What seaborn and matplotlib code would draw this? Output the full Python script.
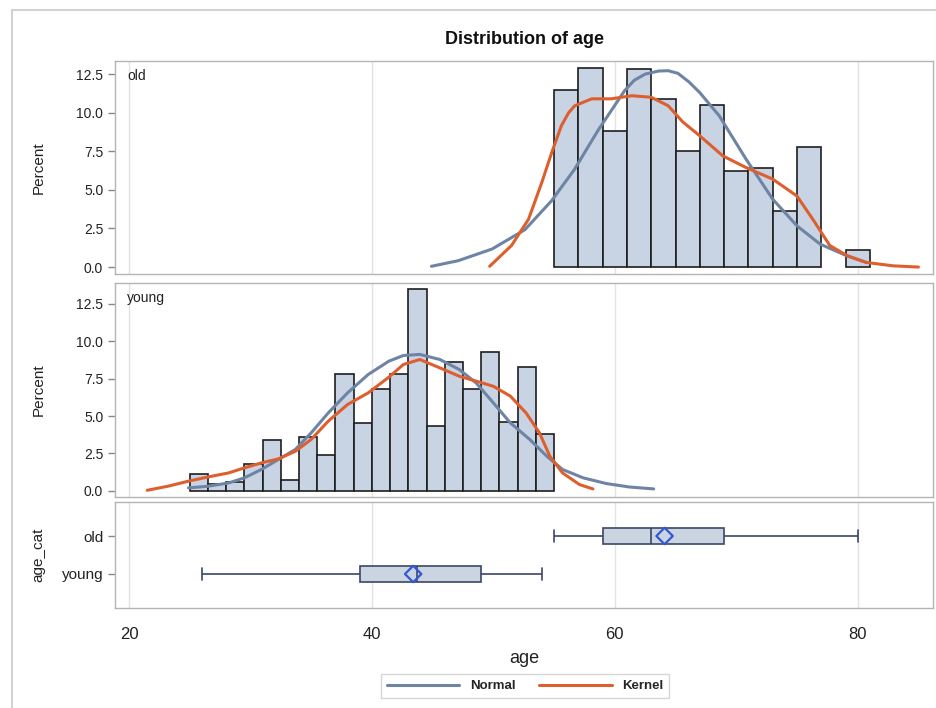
import numpy as np
import pandas as pd
import matplotlib
matplotlib.use("Agg")
import matplotlib.pyplot as plt
import seaborn as sns
from matplotlib.patches import Rectangle

# histogram bins (edges) and percent heights
OLD_EDGES = [55, 57, 59, 61, 63, 65, 67, 69, 71, 73, 75, 77, 79, 81]
OLD_PCT = [11.5, 12.9, 8.8, 12.8, 10.9, 7.5, 10.5, 6.2, 6.4, 3.6, 7.8, 0.0, 1.1]

YOUNG_EDGES = [25, 26.5, 28, 29.5, 31, 32.5, 34, 35.5, 37, 38.5, 40,
               41.5, 43, 44.5, 46, 47.5, 49, 50.5, 52, 53.5, 55]
YOUNG_PCT = [1.1, 0.45, 0.6, 1.8, 3.4, 0.7, 3.6, 2.4, 7.8, 4.5,
             6.8, 7.8, 13.5, 4.3, 8.6, 6.8, 9.3, 4.6, 8.3, 3.8]

# fitted curves, points
OLD_NORMAL_X = [44.9, 47.1, 49.9, 52.6, 54.8, 56.7, 58.6, 60.8, 61.6, 62.5, 63.6,
                64.4, 65.2, 66.1, 67.0, 68.6, 70.8, 73.0, 75.0, 76.9, 79.1, 80.7]
OLD_NORMAL_Y = [0.05, 0.41, 1.17, 2.42, 4.3, 6.35, 8.83, 11.42, 12.1, 12.5, 12.7,
                12.72, 12.55, 12.0, 11.3, 9.8, 7.0, 4.4, 2.67, 1.49, 0.73, 0.3]
OLD_KERNEL_X = [49.7, 51.5, 52.9, 54.0, 54.8, 55.6, 56.2, 56.7, 58.1, 59.7, 61.4, 63.0, 64.4,
                65.6, 67.0, 68.9, 70.8, 73.0, 75.0, 76.3, 77.7, 79.1, 80.7, 82.9, 85.0]
OLD_KERNEL_Y = [0.05, 1.4, 3.1, 5.5, 7.4, 9.15, 10.0, 10.45, 10.9, 10.9, 11.1, 11.0, 10.45,
                9.4, 8.5, 7.2, 6.45, 5.7, 4.6, 3.1, 1.4, 0.75, 0.3, 0.08, 0.0]

YOUNG_NORMAL_X = [24.9, 26.5, 28.2, 29.5, 30.9, 32.3, 33.7, 35.0, 36.4, 38.0, 39.7, 41.4, 42.6,
                  43.95, 45.6, 47.2, 48.6, 50.0, 51.4, 53.0, 54.4, 55.7, 57.4, 59.3, 61.2, 63.2]
YOUNG_NORMAL_Y = [0.19, 0.3, 0.52, 0.86, 1.42, 2.09, 2.76, 3.87, 5.2, 6.55, 7.78, 8.67, 9.05,
                  9.12, 8.78, 8.11, 7.2, 5.88, 4.54, 3.43, 2.31, 1.42, 0.86, 0.48, 0.25, 0.12]
YOUNG_KERNEL_X = [21.5, 23.2, 24.9, 26.5, 28.2, 29.5, 30.9, 32.3, 33.7, 35.0, 36.4, 38.0, 39.7, 41.4,
                  42.6, 43.95, 45.6, 47.2, 48.6, 50.0, 51.4, 52.7, 53.8, 54.65, 55.7, 57.1, 58.2]
YOUNG_KERNEL_Y = [0.03, 0.3, 0.64, 0.92, 1.19, 1.53, 1.86, 2.13, 2.64, 3.43, 4.65, 5.77, 6.55, 7.6,
                  8.45, 8.78, 8.22, 7.66, 7.33, 6.99, 6.33, 5.2, 3.87, 2.31, 1.19, 0.41, 0.12]

# box plot summary per age_cat
BOX_CATS = ["old", "young"]
BOX_MIN = [55, 26]
BOX_Q1 = [59, 39]
BOX_MED = [63, 43.7]
BOX_Q3 = [69, 49]
BOX_MAX = [80, 54]
BOX_MEAN = [64.1, 43.4]

BAR_FILL = "#C8D3E4"
BAR_EDGE = "#1E1E1E"
NORMAL_C = "#6E84A4"
KERNEL_C = "#DE5F2E"
BOX_EDGE = "#3B4668"
MEAN_C = "#3358CF"
SPINE_C = "#B4B4B4"

W, H = 937, 708

sns.set_style("white")
plt.rcParams["font.family"] = ["Liberation Sans", "DejaVu Sans"]

fig = plt.figure(figsize=(W / 100, H / 100), dpi=100)


def px_axes(left, top, right, bottom):
    return fig.add_axes([left / W, 1 - bottom / H, (right - left) / W, (bottom - top) / H])


ax_old = px_axes(115, 61, 933, 274)
ax_young = px_axes(115, 283, 933, 497)
ax_box = px_axes(115, 502, 933, 608)


def draw_hist(ax, edges, pct, nx, ny, kx, ky, name, ylim):
    centers = [(a + b) / 2 for a, b in zip(edges[:-1], edges[1:])]
    sns.histplot(x=centers, weights=pct, bins=edges, ax=ax, color=BAR_FILL,
                 edgecolor=BAR_EDGE, linewidth=1.2, alpha=1)
    for p in ax.patches:
        if p.get_height() == 0:
            p.set_visible(False)
    sns.lineplot(x=nx, y=ny, ax=ax, color=NORMAL_C, linewidth=2.2, sort=False,
                 estimator=None, label="Normal")
    sns.lineplot(x=kx, y=ky, ax=ax, color=KERNEL_C, linewidth=2.2, sort=False,
                 estimator=None, label="Kernel")
    if ax.get_legend() is not None:
        ax.get_legend().remove()
    ax.set_ylim(*ylim)
    ax.set_yticks([0, 2.5, 5, 7.5, 10, 12.5])
    ax.set_yticklabels(["0.0", "2.5", "5.0", "7.5", "10.0", "12.5"])
    ax.set_ylabel("Percent", fontsize=11, color="#222222")
    ax.yaxis.set_label_coords(-0.085, 0.5)
    ax.set_xlabel("")
    ax.tick_params(axis="x", length=0, labelbottom=False)
    ax.text(0.015, 0.93, name, transform=ax.transAxes, ha="left", va="center",
            fontsize=10, color="#222222")


draw_hist(ax_old, OLD_EDGES, OLD_PCT, OLD_NORMAL_X, OLD_NORMAL_Y,
          OLD_KERNEL_X, OLD_KERNEL_Y, "old", (-0.45, 13.35))
draw_hist(ax_young, YOUNG_EDGES, YOUNG_PCT, YOUNG_NORMAL_X, YOUNG_NORMAL_Y,
          YOUNG_KERNEL_X, YOUNG_KERNEL_Y, "young", (-0.42, 13.9))

# box plot: five-number summary per category
rows = []
for i, cat in enumerate(BOX_CATS):
    for v in (BOX_MIN[i], BOX_Q1[i], BOX_MED[i], BOX_Q3[i], BOX_MAX[i]):
        rows.append({"age": v, "age_cat": cat})
box_df = pd.DataFrame(rows)

sns.boxplot(data=box_df, x="age", y="age_cat", order=BOX_CATS, orient="h",
            whis=(0, 100), width=0.42, color=BAR_FILL, linecolor=BOX_EDGE,
            linewidth=1.2, ax=ax_box, capwidths=0.32)
sns.scatterplot(x=BOX_MEAN, y=BOX_CATS, marker="D", s=70, facecolor="none",
                edgecolor=MEAN_C, linewidth=1.6, ax=ax_box, zorder=5)
ax_box.set_ylim(1.895, -0.895)
ax_box.set_ylabel("age_cat", fontsize=11, color="#222222")
ax_box.yaxis.set_label_coords(-0.085, 0.5)
ax_box.set_xlabel("age", fontsize=13, color="#222222")
ax_box.xaxis.set_label_coords(0.5, -0.40)
ax_box.tick_params(axis="x", length=5, pad=9, labelsize=12, color="#888888",
                   labelcolor="#222222")

for ax in (ax_old, ax_young, ax_box):
    ax.set_xlim(18.85, 86.2)
    ax.set_xticks([20, 40, 60, 80])
    ax.grid(axis="x", color="#E3E3E3", linewidth=1)
    ax.grid(axis="y", visible=False)
    ax.set_axisbelow(True)
    for s in ax.spines.values():
        s.set_color(SPINE_C)
        s.set_linewidth(1)
    ax.tick_params(axis="y", left=True, length=5, width=1, color="#888888",
                   labelsize=10, labelcolor="#222222")
ax_box.tick_params(axis="y", labelsize=11)

handles, labels = ax_old.get_legend_handles_labels()
fig.legend(handles, labels, loc="center", bbox_to_anchor=(525 / W, 1 - 686 / H),
           ncol=2, frameon=True, fancybox=False, edgecolor="#CCCCCC",
           prop={"size": 9.5, "weight": "bold"}, handlelength=5.5,
           columnspacing=1.8, borderpad=0.45)

fig.text(525 / W, 1 - 40 / H, "Distribution of age", ha="center", va="center",
         fontsize=13, fontweight="bold", color="#111111")

fig.add_artist(Rectangle((12 / W, -0.05), 1.0, 1.05 - 10 / H, transform=fig.transFigure,
                         fill=False, edgecolor="#D2D2D2", linewidth=1.5))

fig.savefig("out.png", dpi=100)
